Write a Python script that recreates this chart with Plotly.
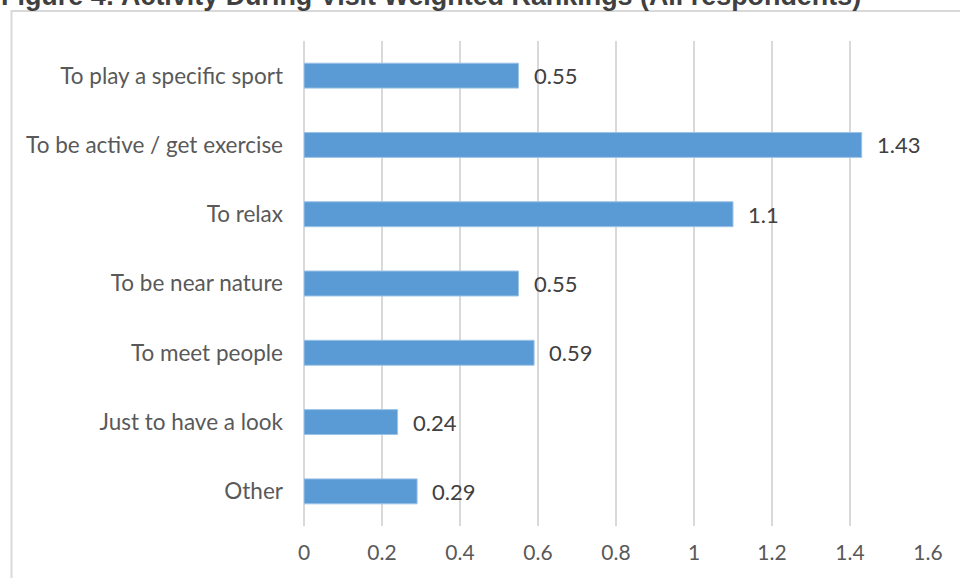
import plotly.graph_objects as go

# Weighted rankings of activity during visit
activities = [
    "To play a specific sport",
    "To be active / get exercise",
    "To relax",
    "To be near nature",
    "To meet people",
    "Just to have a look",
    "Other",
]
scores = [0.55, 1.43, 1.1, 0.55, 0.59, 0.24, 0.29]
x_ticks = [0, 0.2, 0.4, 0.6, 0.8, 1, 1.2, 1.4, 1.6]

W, H = 960, 578
L, R, T, B = 304, 32, 41, 52
pw, ph = W - L - R, H - T - B


def px_x(p):
    return (p - L) / pw


def px_y(p):
    return (H - B - p) / ph


LABEL_FONT = "Lato, 'Open Sans', sans-serif"

fig = go.Figure()
fig.add_trace(go.Bar(
    x=scores,
    y=activities,
    orientation="h",
    width=0.36,
    marker=dict(color="#5B9BD5", line=dict(color="#9DC3E6", width=1)),
    hoverinfo="x+y",
))

# value labels placed just past each bar end
for a, v in zip(activities, scores):
    fig.add_annotation(
        x=v, y=a, xref="x", yref="y",
        text=f"{v:g}", showarrow=False,
        xanchor="left", yanchor="middle", xshift=13,
        font=dict(family=LABEL_FONT, size=22, color="#404040"),
    )

# outer chart frame
fig.add_shape(
    type="rect", xref="paper", yref="paper",
    x0=px_x(11.5), x1=px_x(975), y0=px_y(590), y1=px_y(11),
    line=dict(color="#D9D9D9", width=2), fillcolor="rgba(0,0,0,0)",
    layer="below",
)

# figure heading
fig.add_annotation(
    x=px_x(-1), y=px_y(13.5), xref="paper", yref="paper",
    text="<b>Figure 4: Activity During Visit Weighted Rankings (All respondents)</b>",
    showarrow=False, xanchor="left", yanchor="bottom",
    font=dict(family="Liberation Sans, Arial, sans-serif", size=26.9, color="#404040"),
)

fig.update_layout(
    width=W, height=H,
    margin=dict(l=L, r=R, t=T, b=B, pad=0),
    paper_bgcolor="white", plot_bgcolor="white",
    showlegend=False,
    xaxis=dict(
        range=[0, 1.6], tickvals=x_ticks, ticktext=[f"{t:g}" for t in x_ticks],
        showgrid=True, gridcolor="#D9D9D9", gridwidth=2,
        zeroline=True, zerolinecolor="#D9D9D9", zerolinewidth=2,
        showline=False, ticks="", ticklabelstandoff=12,
        tickfont=dict(family=LABEL_FONT, size=21, color="#595959"),
        fixedrange=True,
    ),
    yaxis=dict(
        autorange="reversed", showgrid=False, zeroline=False, showline=False,
        ticks="", ticklabelstandoff=20,
        tickfont=dict(family=LABEL_FONT, size=22.5, color="#595959"),
        fixedrange=True,
    ),
)

fig.write_html("out.html")
